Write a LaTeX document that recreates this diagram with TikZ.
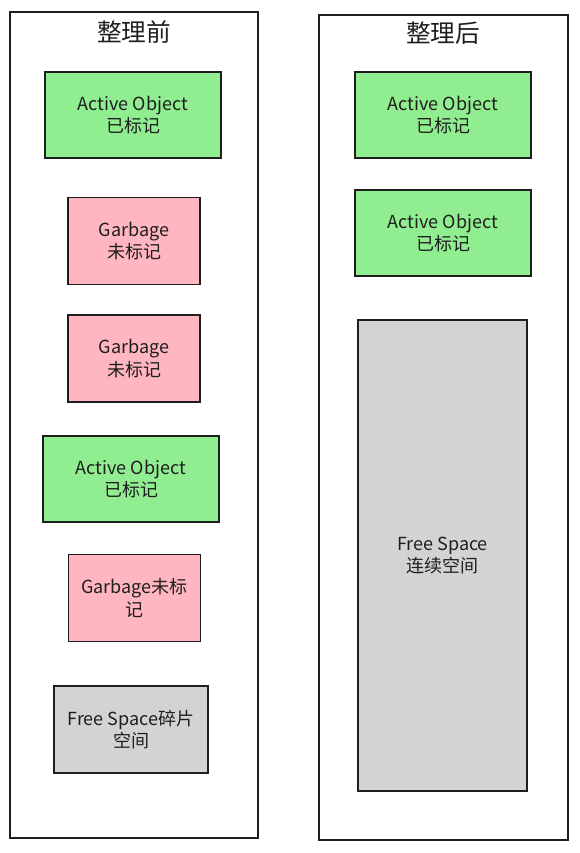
\documentclass[tikz,border=0pt]{standalone}
\usepackage{fontspec}
\setmainfont{Noto Sans CJK SC}
\usepackage{xcolor}
\definecolor{ink}{HTML}{1E1E1E}
\definecolor{live}{HTML}{90EE90}
\definecolor{junk}{HTML}{FFB6C1}
\definecolor{hole}{HTML}{D3D3D3}
\usepackage{tikz}

\begin{document}
\begin{tikzpicture}[x=0.75pt, y=-0.75pt,
    heap/.style={draw=ink, line width=1.1pt, inner sep=0pt},
    cell/.style={draw=ink, line width=1.4pt, inner sep=2pt, align=center,
        text=ink, font=\fontsize{13.5}{17}\selectfont},
    alive/.style={cell, fill=live, minimum width=132pt, minimum height=64.5pt},
    dead/.style={cell, fill=junk, minimum width=99pt, minimum height=65.25pt},
    free/.style={cell, fill=hole},
    heading/.style={text=ink, font=\fontsize{18.5}{22}\selectfont}]
    \useasboundingbox (0,0) rectangle (579,853);

    % Heap before compaction
    \node[heap, minimum width=186pt, minimum height=619.5pt] (before) at (134,425) {};
    \node[heading] (beforeT) at (134,32) {整理前};
    \node[alive] (b1) at (133,115) {Active Object\\已标记};
    \node[dead] (b2) at (134,241) {Garbage\\未标记};
    \node[dead] (b3) at (134,358.5) {Garbage\\未标记};
    \node[alive] (b4) at (131,479) {Active Object\\已标记};
    \node[dead] (b5) at (134.5,598) {Garbage未标\\记};
    \node[free, minimum width=115.5pt, minimum height=65.25pt] (b6) at (131,729.5) {Free Space碎片\\空间};

    % Heap after compaction
    \node[heap, minimum width=186.75pt, minimum height=618.75pt] (after) at (443.5,427.5) {};
    \node[heading] (afterT) at (443,33) {整理后};
    \node[alive] (a1) at (443,115) {Active Object\\已标记};
    \node[alive] (a2) at (443,233) {Active Object\\已标记};
    \node[free, minimum width=126.75pt, minimum height=353.25pt] (a3) at (442.5,555.5) {Free Space\\连续空间};
\end{tikzpicture}
\end{document}
